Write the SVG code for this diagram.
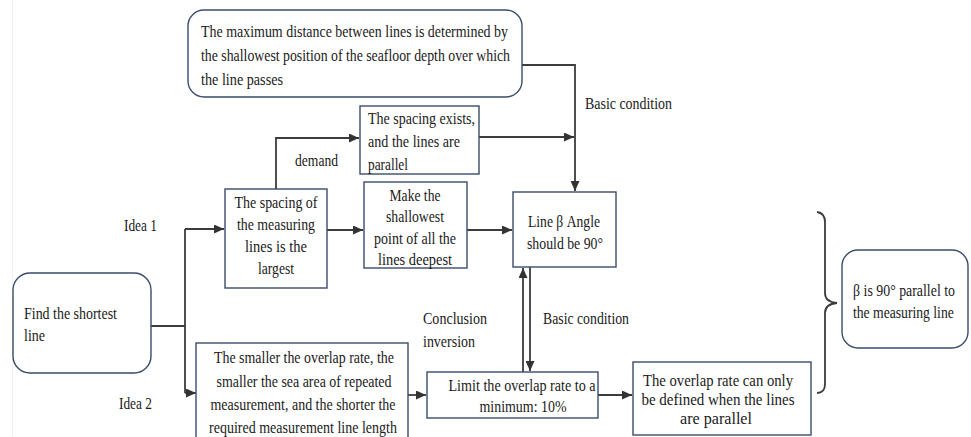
<svg xmlns="http://www.w3.org/2000/svg" width="971" height="437" viewBox="0 0 971 437">
<defs>
<marker id="ah" markerUnits="userSpaceOnUse" markerWidth="11" markerHeight="9" refX="10" refY="4.5" orient="auto">
<path d="M0,0 L10,4.5 L0,9 z" fill="#333"/>
</marker>
<style>
.box{fill:#fff;stroke:#3a4c6b;stroke-width:1.4}
.ln{fill:none;stroke:#3c3c3c;stroke-width:1.8}
.ar{fill:none;stroke:#3c3c3c;stroke-width:1.8;marker-end:url(#ah)}
text{font-family:"Liberation Serif","Times New Roman",serif;font-size:17px;fill:#1a1a1a}
.c{text-anchor:middle}
</style>
</defs>
<rect width="971" height="437" fill="#fff"/>
<line x1="12.5" y1="0" x2="12.5" y2="437" stroke="#f2f2f2" stroke-width="1"/>

<g id="connectors">
<path class="ar" d="M522,65 H575 V191"/>
<path class="ar" d="M479,137 H574"/>
<path class="ar" d="M276,189 V138 H359"/>
<path class="ln" d="M151,326 H185 M185,229 V393"/>
<path class="ar" d="M185,229 H224"/>
<path class="ar" d="M185,393 H196"/>
<path class="ar" d="M327,230 H363"/>
<path class="ar" d="M467,230 H512"/>
<path class="ar" d="M523,372 V268"/>
<path class="ar" d="M530,267 V371"/>
<path class="ar" d="M408,395 H426"/>
<path class="ar" d="M598,395 H632"/>
<path class="ln" d="M817,212 Q825,213 825,222 V293 Q825,302 837,303 Q825,304 825,313 V384 Q825,393 817,393"/>
</g>

<g id="labels">
<text x="585" y="109" textLength="87" lengthAdjust="spacingAndGlyphs">Basic condition</text>
<text x="295" y="166" textLength="43" lengthAdjust="spacingAndGlyphs">demand</text>
<text x="124" y="231" textLength="33" lengthAdjust="spacingAndGlyphs">Idea 1</text>
<text x="119" y="409" textLength="33" lengthAdjust="spacingAndGlyphs">Idea 2</text>
<text x="423" y="324" textLength="64" lengthAdjust="spacingAndGlyphs">Conclusion</text>
<text x="423" y="347" textLength="52" lengthAdjust="spacingAndGlyphs">inversion</text>
<text x="543" y="324" textLength="86" lengthAdjust="spacingAndGlyphs">Basic condition</text>
</g>

<g id="node-max-distance">
<rect class="box" x="188" y="10" width="334" height="87" rx="16"/>
<text x="201" y="37" textLength="307" lengthAdjust="spacingAndGlyphs">The maximum distance between lines is determined by</text>
<text x="201" y="61" textLength="309" lengthAdjust="spacingAndGlyphs">the shallowest position of the seafloor depth over which</text>
<text x="201" y="85" textLength="82" lengthAdjust="spacingAndGlyphs">the line passes</text>
</g>

<g id="node-spacing-exists">
<rect class="box" x="360" y="106" width="119" height="68"/>
<text x="368" y="124" textLength="107" lengthAdjust="spacingAndGlyphs">The spacing exists,</text>
<text x="368" y="147" textLength="92" lengthAdjust="spacingAndGlyphs">and the lines are</text>
<text x="368" y="170" textLength="40" lengthAdjust="spacingAndGlyphs">parallel</text>
</g>

<g id="node-spacing-largest">
<rect class="box" x="225" y="189" width="102" height="99"/>
<text class="c" x="276" y="208" textLength="83" lengthAdjust="spacingAndGlyphs">The spacing of</text>
<text class="c" x="276" y="230" textLength="78" lengthAdjust="spacingAndGlyphs">the measuring</text>
<text class="c" x="276" y="252" textLength="62" lengthAdjust="spacingAndGlyphs">lines is the</text>
<text class="c" x="276" y="274" textLength="36" lengthAdjust="spacingAndGlyphs">largest</text>
</g>

<g id="node-shallowest">
<rect class="box" x="364" y="182" width="103" height="86"/>
<text class="c" x="415" y="201" textLength="51" lengthAdjust="spacingAndGlyphs">Make the</text>
<text class="c" x="415" y="222" textLength="58" lengthAdjust="spacingAndGlyphs">shallowest</text>
<text class="c" x="415" y="244" textLength="82" lengthAdjust="spacingAndGlyphs">point of all the</text>
<text class="c" x="415" y="265" textLength="74" lengthAdjust="spacingAndGlyphs">lines deepest</text>
</g>

<g id="node-beta-angle">
<rect class="box" x="513" y="192" width="103" height="75"/>
<text class="c" x="564" y="227" textLength="72" lengthAdjust="spacingAndGlyphs">Line β Angle</text>
<text class="c" x="565" y="249" textLength="76" lengthAdjust="spacingAndGlyphs">should be 90°</text>
</g>

<g id="node-find-shortest">
<rect class="box" x="13" y="273" width="138" height="100" rx="17"/>
<text x="24" y="319" textLength="93" lengthAdjust="spacingAndGlyphs">Find the shortest</text>
<text x="24" y="341" textLength="21" lengthAdjust="spacingAndGlyphs">line</text>
</g>

<g id="node-smaller-overlap">
<rect class="box" x="196" y="343" width="212" height="104"/>
<text class="c" x="304" y="363" textLength="180" lengthAdjust="spacingAndGlyphs">The smaller the overlap rate, the</text>
<text class="c" x="304" y="387" textLength="175" lengthAdjust="spacingAndGlyphs">smaller the sea area of repeated</text>
<text class="c" x="303" y="410" textLength="185" lengthAdjust="spacingAndGlyphs">measurement, and the shorter the</text>
<text class="c" x="303" y="433" textLength="188" lengthAdjust="spacingAndGlyphs">required measurement line length</text>
</g>

<g id="node-limit-overlap">
<rect class="box" x="427" y="372" width="171" height="46"/>
<text class="c" x="522" y="391" textLength="147" lengthAdjust="spacingAndGlyphs">Limit the overlap rate to a</text>
<text class="c" x="523" y="412" textLength="87" lengthAdjust="spacingAndGlyphs">minimum: 10%</text>
</g>

<g id="node-overlap-defined">
<rect class="box" x="633" y="362" width="178" height="73"/>
<text class="c" x="718" y="386" textLength="150" lengthAdjust="spacingAndGlyphs">The overlap rate can only</text>
<text class="c" x="718" y="405" textLength="153" lengthAdjust="spacingAndGlyphs">be defined when the lines</text>
<text class="c" x="716" y="424" textLength="72" lengthAdjust="spacingAndGlyphs">are parallel</text>
</g>

<g id="node-beta-parallel">
<rect class="box" x="842" y="250" width="126" height="98" rx="16"/>
<text transform="translate(853 296) scale(0.8 1)" x="0" y="0" textLength="127.5" lengthAdjust="spacingAndGlyphs">β is 90° parallel to</text>
<text transform="translate(853 318) scale(0.8 1)" x="0" y="0" textLength="126" lengthAdjust="spacingAndGlyphs">the measuring line</text>
</g>
</svg>
